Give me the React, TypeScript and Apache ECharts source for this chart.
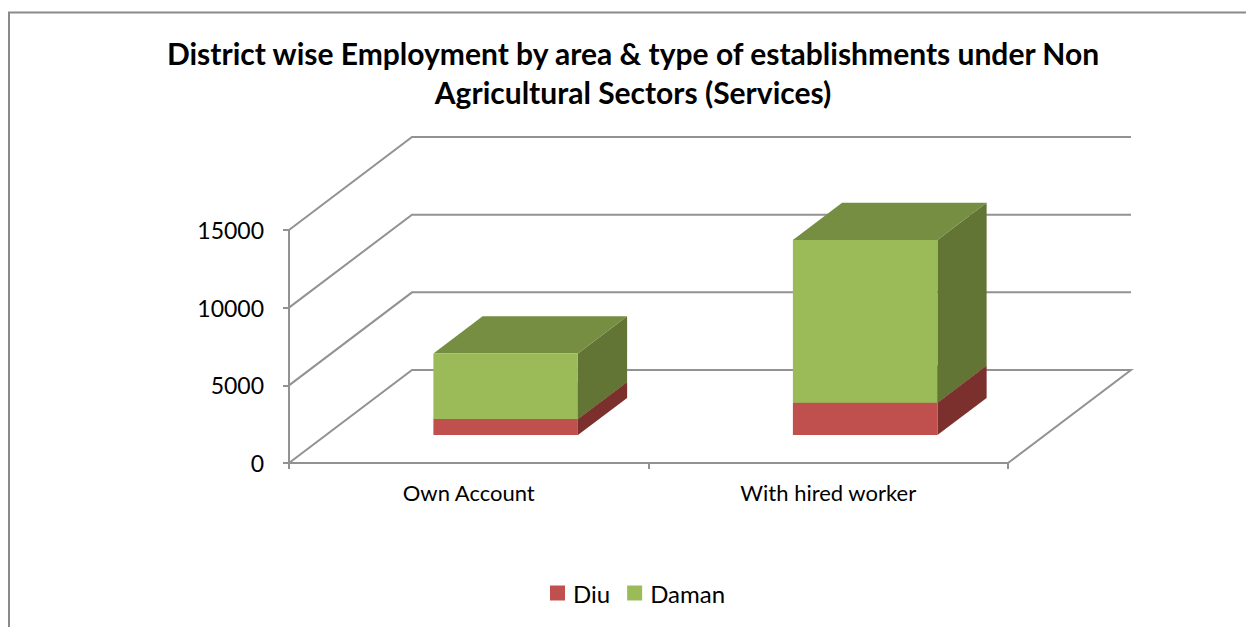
import React, { useEffect, useRef } from "react";
import * as echarts from "echarts";

const categories = ["Own Account", "With hired worker"];
const diuValues = [1030, 2090];
const damanValues = [4220, 10470];
const yTicks = [0, 5000, 10000, 15000];
const titleText =
  "District wise Employment by area & type of establishments under Non\nAgricultural Sectors (Services)";

const FONT = "Lato";
const AXIS = "#929292";
const DEPTH_X = 123;
const DEPTH_Y = 93;
const BAR_RATIO = 0.402;
const BAR_DEPTH_START = 0.3;
const BAR_DEPTH_END = 0.7;

function barRender(front: string, top: string, side: string) {
  return (_p: any, api: any) => {
    const cat = api.value(0);
    const band = api.size([1, 0])[0];
    const w = band * BAR_RATIO;
    const base = api.coord([cat, api.value(1)]);
    const head = api.coord([cat, api.value(2)]);
    const ox = DEPTH_X * BAR_DEPTH_START;
    const oy = -DEPTH_Y * BAR_DEPTH_START;
    const dx = DEPTH_X * (BAR_DEPTH_END - BAR_DEPTH_START);
    const dy = -DEPTH_Y * (BAR_DEPTH_END - BAR_DEPTH_START);
    const l = base[0] - w / 2 + ox;
    const r = base[0] + w / 2 + ox;
    const yb = base[1] + oy;
    const yt = head[1] + oy;
    return {
      type: "group",
      children: [
        {
          type: "polygon",
          shape: { points: [[r, yb], [r + dx, yb + dy], [r + dx, yt + dy], [r, yt]] },
          style: { fill: side },
        },
        {
          type: "polygon",
          shape: { points: [[l, yt], [r, yt], [r + dx, yt + dy], [l + dx, yt + dy]] },
          style: { fill: top },
        },
        {
          type: "rect",
          shape: { x: l, y: yt, width: r - l, height: yb - yt },
          style: { fill: front },
        },
      ],
    };
  };
}

function wallRender(_p: any, api: any) {
  const v = api.value(0);
  const band = api.size([1, 0])[0];
  const c0 = api.coord([0, v]);
  const left = c0[0] - band / 2;
  const right = left + band * categories.length;
  const y = c0[1];
  const points =
    v === 0
      ? [[left, y], [left + DEPTH_X, y - DEPTH_Y], [right + DEPTH_X, y - DEPTH_Y], [right, y]]
      : [[left, y], [left + DEPTH_X, y - DEPTH_Y], [right + DEPTH_X, y - DEPTH_Y]];
  return {
    type: "polyline",
    shape: { points },
    style: { stroke: AXIS, lineWidth: 2, fill: "none" },
  };
}

export default function App() {
  const ref = useRef<HTMLDivElement>(null);
  useEffect(() => {
    const chart = echarts.init(ref.current!, null, { renderer: "svg" });
    chart.setOption({
      animation: false,
      backgroundColor: "#ffffff",
      textStyle: { fontFamily: FONT },
      title: {
        text: titleText,
        left: 628,
        top: 28,
        textAlign: "center",
        textStyle: {
          fontFamily: FONT,
          fontWeight: "bold",
          fontSize: 30,
          lineHeight: 39,
          color: "#000000",
        },
      },
      legend: {
        data: ["Diu", "Daman"],
        left: 545,
        top: 576,
        icon: "rect",
        itemWidth: 15,
        itemHeight: 15,
        itemGap: 17,
        textStyle: { fontFamily: FONT, fontSize: 24, color: "#000000", padding: [0, 0, 0, 3] },
      },
      grid: { left: 289, top: 230, width: 719, height: 233 },
      xAxis: {
        type: "category",
        data: categories,
        axisLine: { lineStyle: { color: AXIS, width: 2 } },
        axisTick: { show: true, length: 6, alignWithLabel: false, lineStyle: { color: AXIS, width: 2 } },
        axisLabel: { color: "#000000", fontFamily: FONT, fontSize: 22, margin: 18 },
      },
      yAxis: {
        type: "value",
        min: 0,
        max: 15000,
        interval: 5000,
        splitLine: { show: false },
        axisLine: { show: true, lineStyle: { color: AXIS, width: 2 } },
        axisTick: { show: true, length: 6, lineStyle: { color: AXIS, width: 2 } },
        axisLabel: {
          color: "#000000",
          fontFamily: FONT,
          fontSize: 23,
          margin: 25,
          formatter: (v: number) => String(v),
        },
      },
      graphic: [
        {
          type: "polyline",
          silent: true,
          shape: { points: [[9, 627], [9, 12.5], [1246, 12.5]] },
          style: { stroke: "#8a8a8a", lineWidth: 2, fill: "none" },
        },
      ],
      series: [
        {
          type: "custom",
          name: "walls",
          silent: true,
          z: 1,
          data: yTicks.map((v) => [v]),
          encode: { y: 0 },
          renderItem: wallRender,
        },
        {
          type: "custom",
          name: "Diu",
          silent: true,
          z: 2,
          itemStyle: { color: "#C0504D" },
          data: diuValues.map((v, i) => [i, 0, v]),
          encode: { x: 0, y: [1, 2] },
          renderItem: barRender("#C0504D", "#95403D", "#7C302E"),
        },
        {
          type: "custom",
          name: "Daman",
          silent: true,
          z: 3,
          itemStyle: { color: "#9BBB59" },
          data: damanValues.map((v, i) => [i, diuValues[i], diuValues[i] + v]),
          encode: { x: 0, y: [1, 2] },
          renderItem: barRender("#9BBB59", "#768E42", "#637535"),
        },
      ],
    });
    return () => chart.dispose();
  }, []);
  return (
    <div
      ref={ref}
      style={{ position: "absolute", left: 0, top: 0, width: 1246, height: 627 }}
    />
  );
}
